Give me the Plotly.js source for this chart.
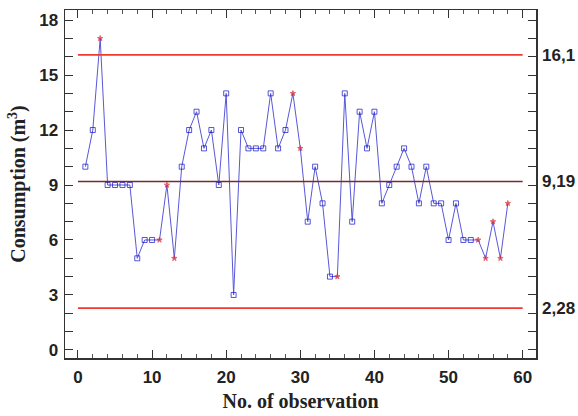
<!DOCTYPE html>
<html>
<head>
<meta charset="utf-8">
<script src="https://cdn.plot.ly/plotly-3.0.1.min.js"></script>
<style>html,body{margin:0;padding:0;background:#fff;}#chart{width:578px;height:416px;}</style>
</head>
<body>
<div id="chart"></div>
<script>
// Observation numbers and consumption values (m3)
const observations = [1,2,3,4,5,6,7,8,9,10,11,12,13,14,15,16,17,18,19,20,21,22,23,24,25,26,27,28,29,30,31,32,33,34,35,36,37,38,39,40,41,42,43,44,45,46,47,48,49,50,51,52,53,54,55,56,57,58];
const consumption = [10,12,17,9,9,9,9,5,6,6,6,9,5,10,12,13,11,12,9,14,3,12,11,11,11,14,11,12,14,11,7,10,8,4,4,14,7,13,11,13,8,9,10,11,10,8,10,8,8,6,8,6,6,6,5,7,5,8];
// Observations flagged (red markers)
const flagged = [3,11,12,13,29,30,35,54,55,56,57,58];
// Control limits
const limitNames = ['UCL','CL','LCL'];
const limitValues = [16.1, 9.19, 2.28];
const limitLabels = ['16,1','9,19','2,28'];
const limitSpan = [0, 60];

const isFlag = observations.map(o => flagged.includes(o));

const traces = [];
const limitColors = {UCL:'#f03a2e', CL:'#7a2a2a', LCL:'#f03a2e'};
limitNames.forEach((n,i) => {
  traces.push({
    x: limitSpan, y: [limitValues[i], limitValues[i]],
    yaxis: 'y2', mode: 'lines', hoverinfo: 'skip',
    line: {color: limitColors[n], width: 1.6}, showlegend: false
  });
});
traces.push({
  x: observations, y: consumption, mode: 'lines+markers',
  line: {color: '#5858d8', width: 1},
  marker: {
    symbol: isFlag.map(f => f ? 'star' : 'square-open'),
    color: isFlag.map(f => f ? '#e0202a' : '#1010c8'),
    size: isFlag.map(f => f ? 4 : 5),
    line: {width: 1, color: isFlag.map(f => f ? '#e0202a' : '#1010c8')}
  },
  showlegend: false
});

const tickFont = {family: '"Liberation Sans Narrow", "Liberation Sans", Arial, sans-serif', size: 17, color: '#222', weight: 'bold'};
const titleFont = {family: '"Liberation Serif", "DejaVu Serif", serif', size: 20, color: '#222'};

const layout = {
  width: 578, height: 416,
  margin: {l: 65, r: 42, t: 10, b: 58},
  paper_bgcolor: '#fff', plot_bgcolor: '#fff',
  showlegend: false,
  xaxis: {
    range: [-1.75, 61.8], showgrid: false, zeroline: false,
    tickmode: 'linear', tick0: 0, dtick: 10,
    ticks: 'inside', ticklen: 8, tickwidth: 1, tickcolor: '#333',
    minor: {dtick: 2, tick0: 0, ticks: 'inside', ticklen: 4, tickwidth: 1, tickcolor: '#555', showgrid: false},
    showline: true, linecolor: '#333', linewidth: 1.5, mirror: 'ticks',
    tickfont: tickFont, ticklabelstandoff: 3,
    title: {text: '<b>No. of observation</b>', font: titleFont, standoff: 8}
  },
  yaxis: {
    range: [-0.44, 18.55], showgrid: false, zeroline: false,
    tickmode: 'linear', tick0: 0, dtick: 3,
    ticks: 'inside', ticklen: 8, tickwidth: 1, tickcolor: '#333',
    minor: {dtick: 1, tick0: 0, ticks: 'inside', ticklen: 8, tickwidth: 1, tickcolor: '#333', showgrid: false},
    showline: true, linecolor: '#333', linewidth: 1.5, mirror: 'ticks',
    tickfont: tickFont, ticklabelstandoff: 2,
    title: {text: '<b>Consumption (m<sup>3</sup>)</b>', font: titleFont, standoff: 8}
  },
  yaxis2: {
    range: [-0.44, 18.55], overlaying: 'y', side: 'right',
    showgrid: false, zeroline: false, showline: false,
    tickmode: 'array', tickvals: limitValues, ticktext: limitLabels,
    ticks: '', tickfont: tickFont, ticklabelstandoff: 5
  }
};

Plotly.newPlot('chart', traces, layout, {displayModeBar: false, staticPlot: true});
</script>
</body>
</html>
